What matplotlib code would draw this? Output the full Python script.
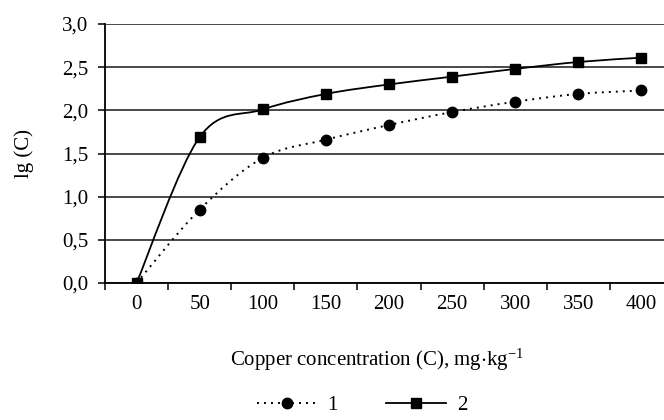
import matplotlib.pyplot as plt
from matplotlib.path import Path
from matplotlib.patches import PathPatch
from matplotlib.lines import Line2D

plt.rcParams['font.family'] = ['Liberation Serif', 'DejaVu Serif']
plt.rcParams['mathtext.fontset'] = 'stix'

concentration = ['0', '50', '100', '150', '200', '250', '300', '350', '400']
series_1 = [0.0, 0.85, 1.45, 1.66, 1.83, 1.98, 2.10, 2.19, 2.23]
series_2 = [0.0, 1.69, 2.01, 2.19, 2.30, 2.39, 2.48, 2.56, 2.61]
y_ticks = [0.0, 0.5, 1.0, 1.5, 2.0, 2.5, 3.0]


def smooth_path(xs, ys):
    """ Excel-like smoothed line as a chain of cubic Bezier segments
    :return: Path
    """
    pts = list(zip(xs, ys))
    n = len(pts)
    verts = [pts[0]]
    codes = [Path.MOVETO]
    for i in range(n - 1):
        p0 = pts[max(i - 1, 0)]
        p1 = pts[i]
        p2 = pts[i + 1]
        p3 = pts[min(i + 2, n - 1)]
        c1 = (p1[0] + (p2[0] - p0[0]) / 6, p1[1] + (p2[1] - p0[1]) / 6)
        c2 = (p2[0] - (p3[0] - p1[0]) / 6, p2[1] - (p3[1] - p1[1]) / 6)
        verts += [c1, c2, p2]
        codes += [Path.CURVE4] * 3
    return Path(verts, codes)


fig = plt.figure(figsize=(6.64, 4.20), dpi=100)
ax = fig.add_axes([105 / 664, 1 - 283 / 420, 568 / 664, 259 / 420])

xs = list(range(len(concentration)))

dotted = (0, (1, 2.6))
ax.add_patch(PathPatch(smooth_path(xs, series_1), fill=False, color='black',
                       lw=1.4, linestyle=dotted, zorder=3))
ax.add_patch(PathPatch(smooth_path(xs, series_2), fill=False, color='black',
                       lw=1.3, zorder=3))
ax.plot(xs, series_1, linestyle='none', marker='o', markersize=7.5,
        color='black', zorder=4)
ax.plot(xs, series_2, linestyle='none', marker='s', markersize=7,
        color='black', zorder=5)

ax.set_xlim(-0.5, len(concentration) - 0.5)
ax.set_ylim(0, 3.0)

ax.set_yticks(y_ticks)
ax.set_yticklabels([f"{v:.1f}".replace('.', ',') for v in y_ticks])
ax.set_xticks(xs)
ax.set_xticklabels(concentration)
ax.set_xticks([x - 0.5 for x in range(len(concentration) + 1)], minor=True)

ax.tick_params(axis='x', which='major', length=0, pad=8.5, labelsize=15)
ax.tick_params(axis='x', which='minor', length=5, width=1.1, direction='out')
ax.tick_params(axis='y', length=5, width=1.1, direction='out', pad=7,
               labelsize=15)

ax.yaxis.grid(True, color='#3a3a3a', lw=1.3)
ax.set_axisbelow(True)
for side in ['top', 'right']:
    ax.spines[side].set_visible(False)
for side in ['left', 'bottom']:
    ax.spines[side].set_linewidth(1.3)
    ax.spines[side].set_zorder(2)

ax.set_xlabel(r"Copper concentration (C), mg$\cdot$kg$^{\mathregular{-1}}$",
              fontsize=15)
ax.xaxis.set_label_coords(0.48, -0.245)
ax.set_ylabel("lg (C)", fontsize=15)
ax.yaxis.set_label_coords(-0.125, 0.5)

handles = [
    Line2D([], [], color='black', lw=1.4, linestyle=dotted, marker='o',
           markersize=7.5),
    Line2D([], [], color='black', lw=1.3, marker='s', markersize=7),
]
fig.legend(handles, ['1', '2'], loc='center', ncol=2, frameon=False,
           bbox_to_anchor=(362 / 664, 1 - 405 / 420), fontsize=15,
           handlelength=2.9, handletextpad=0.5, columnspacing=2.3)

plt.savefig("out.png", dpi=100)
plt.close()
